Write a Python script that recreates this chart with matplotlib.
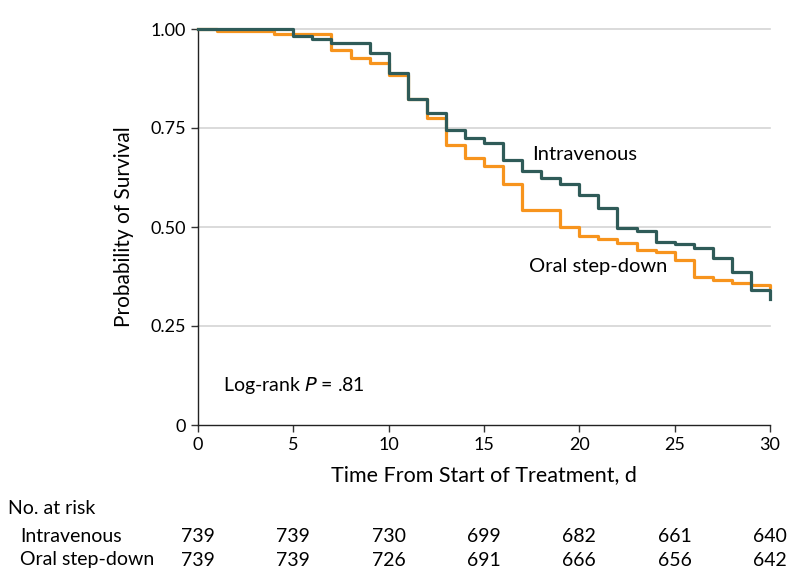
import matplotlib
matplotlib.use("Agg")
import matplotlib.pyplot as plt
import matplotlib.transforms as mtransforms

plt.rcParams['font.family'] = ['Lato', 'DejaVu Sans']

days = list(range(0, 31))
intravenous = [1.0, 1.0, 1.0, 1.0, 1.0, 0.982, 0.974, 0.965, 0.965, 0.939,
               0.890, 0.823, 0.787, 0.745, 0.724, 0.713, 0.669, 0.642, 0.623, 0.608,
               0.582, 0.548, 0.497, 0.491, 0.463, 0.456, 0.448, 0.421, 0.387, 0.341,
               0.317]
oral = [1.0, 0.996, 0.996, 0.996, 0.988, 0.988, 0.988, 0.947, 0.926, 0.913,
        0.885, 0.822, 0.776, 0.707, 0.674, 0.655, 0.608, 0.543, 0.543, 0.501,
        0.477, 0.469, 0.459, 0.442, 0.436, 0.417, 0.373, 0.366, 0.359, 0.354,
        0.348]

risk_days = [0, 5, 10, 15, 20, 25, 30]
risk_iv = [739, 739, 730, 699, 682, 661, 640]
risk_oral = [739, 739, 726, 691, 666, 656, 642]

yticks = [0, 0.25, 0.5, 0.75, 1.0]
ytick_labels = ["0", "0.25", "0.50", "0.75", "1.00"]
xticks = [0, 5, 10, 15, 20, 25, 30]

c_iv = "#2f5b58"
c_oral = "#f7941d"

fig = plt.figure(figsize=(7.94, 5.88), dpi=100)
ax = fig.add_axes([198/794, 1 - 425/588, 572/794, 396/588])

for y in yticks[1:]:
    ax.axhline(y, color="#d4d4d4", lw=1.2, zorder=0, clip_on=False)

ax.step(days, oral, where="post", color=c_oral, lw=2.3, clip_on=False, zorder=3)
ax.step(days, intravenous, where="post", color=c_iv, lw=2.3, clip_on=False, zorder=4)

ax.set_xlim(0, 30)
ax.set_ylim(0, 1.0)
ax.set_xticks(xticks)
ax.set_xticklabels([str(x) for x in xticks])
ax.set_yticks(yticks)
ax.set_yticklabels(ytick_labels)
ax.tick_params(axis="both", labelsize=13, length=5, width=1, direction="out", color="#333333")
for s in ["top", "right"]:
    ax.spines[s].set_visible(False)
for s in ["left", "bottom"]:
    ax.spines[s].set_color("#222222")
    ax.spines[s].set_linewidth(1.0)

ax.set_xlabel("Time From Start of Treatment, d", fontsize=15.5, labelpad=9)
ax.set_ylabel("Probability of Survival", fontsize=15, labelpad=12)

ax.text(17.5, 0.683, "Intravenous", fontsize=14.5, va="center", ha="left")
ax.text(17.35, 0.40, "Oral step-down", fontsize=14.5, va="center", ha="left")
ax.text(1.3, 0.10, "Log-rank $\\it{P}$ = .81", fontsize=14, va="center", ha="left")

trans = mtransforms.blended_transform_factory(ax.transData, fig.transFigure)
fig.text(8/794, 1 - 509/588, "No. at risk", fontsize=14, va="center", ha="left")
fig.text(20/794, 1 - 536/588, "Intravenous", fontsize=14, va="center", ha="left")
fig.text(20/794, 1 - 560/588, "Oral step-down", fontsize=14, va="center", ha="left")
for d, a, b in zip(risk_days, risk_iv, risk_oral):
    ax.text(d, 1 - 536/588, str(a), transform=trans, fontsize=14, ha="center", va="center", clip_on=False)
    ax.text(d, 1 - 560/588, str(b), transform=trans, fontsize=14, ha="center", va="center", clip_on=False)

fig.savefig("out.png", dpi=100)
